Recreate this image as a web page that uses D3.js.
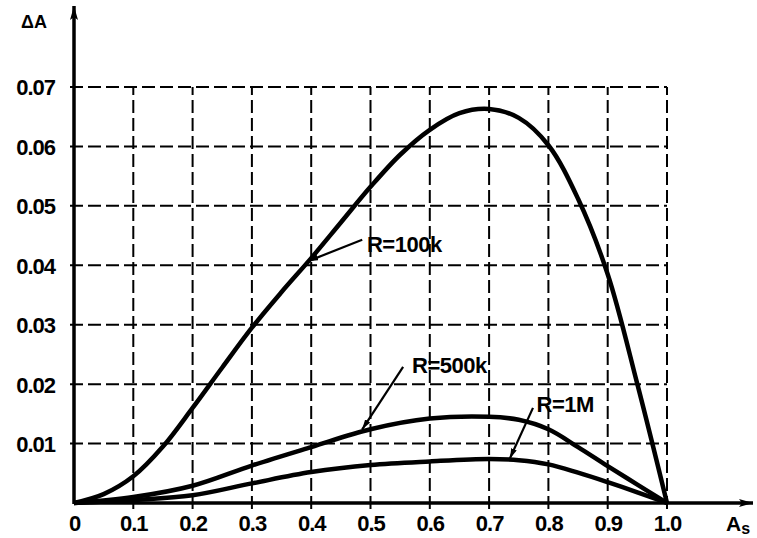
<!DOCTYPE html>
<html><head><meta charset="utf-8">
<script src="https://cdn.jsdelivr.net/npm/d3@7"></script>
<style>
body{margin:0;background:#fff;}
svg{display:block;}
text{font-family:"Liberation Sans",Arial,sans-serif;font-weight:bold;fill:#000;}
</style></head>
<body><svg id="c" width="757" height="538"></svg>
<script>
const xTicks = [0,0.1,0.2,0.3,0.4,0.5,0.6,0.7,0.8,0.9,1.0];
const xTickLabels = ["0","0.1","0.2","0.3","0.4","0.5","0.6","0.7","0.8","0.9","1.0"];
const yTicks = [0.01,0.02,0.03,0.04,0.05,0.06,0.07];
const yTickLabels = ["0.01","0.02","0.03","0.04","0.05","0.06","0.07"];

const xs100k = [0,0.05,0.1,0.15,0.2,0.25,0.3,0.35,0.4,0.45,0.5,0.55,0.6,0.65,0.7,0.75,0.8,0.85,0.9,0.95,1.0];
const r100k  = [0,0.0015,0.0045,0.0095,0.016,0.0228,0.0295,0.0355,0.0412,0.0472,0.0532,0.0586,0.0628,0.0656,0.0663,0.0648,0.0602,0.0512,0.0385,0.0200,0];
const xs500k = [0,0.1,0.2,0.3,0.4,0.5,0.6,0.7,0.75,0.8,0.85,0.9,0.95,1.0];
const r500k  = [0,0.0010,0.0029,0.0063,0.0094,0.0124,0.0142,0.0145,0.0140,0.0124,0.0094,0.0062,0.0031,0];
const xs1M   = [0,0.1,0.2,0.3,0.4,0.5,0.6,0.7,0.75,0.8,0.85,0.9,0.95,1.0];
const r1M    = [0,0.0005,0.0013,0.0033,0.0052,0.0064,0.0070,0.0074,0.0072,0.0065,0.0051,0.0035,0.0018,0];

const labels = [
  {text:"R=100k", tipX:0.395, tipY:0.0407, fromX:0.486, fromY:0.0443, tx:0.494, ty:0.0422},
  {text:"R=500k", tipX:0.486, tipY:0.0124, fromX:0.555, fromY:0.0229, tx:0.570, ty:0.0218},
  {text:"R=1M",   tipX:0.735, tipY:0.0075, fromX:0.774, fromY:0.0160, tx:0.780, ty:0.0153}
];

const svg = d3.select("#c");
const x = d3.scaleLinear().domain([0,1]).range([74,667]);
const y = d3.scaleLinear().domain([0,0.07]).range([503,87]);

const defs = svg.append("defs");
defs.append("marker").attr("id","ah").attr("viewBox","0 0 10 6").attr("refX",10).attr("refY",3)
  .attr("markerWidth",10).attr("markerHeight",6).attr("markerUnits","userSpaceOnUse").attr("orient","auto")
  .append("path").attr("d","M0,0L10,3L0,6Z").attr("fill","#000");
defs.append("marker").attr("id","axh").attr("viewBox","0 0 14 8").attr("refX",14).attr("refY",4)
  .attr("markerWidth",14).attr("markerHeight",8).attr("markerUnits","userSpaceOnUse").attr("orient","auto")
  .append("path").attr("d","M0,0L14,4L0,8L3,4Z").attr("fill","#000");

// grid
const g = svg.append("g");
g.selectAll("line.v").data(xTicks.slice(1)).enter().append("line")
  .attr("x1",d=>x(d)).attr("x2",d=>x(d)).attr("y1",y(0)+6).attr("y2",y(0.07))
  .attr("stroke","#000").attr("stroke-width",2).attr("stroke-dasharray","13,5");
g.selectAll("line.h").data(yTicks).enter().append("line")
  .attr("x1",x(0)-4).attr("x2",x(1)).attr("y1",d=>y(d)).attr("y2",d=>y(d))
  .attr("stroke","#000").attr("stroke-width",2).attr("stroke-dasharray","13,5");

// axes lines
svg.append("line").attr("x1",x(0)).attr("x2",753).attr("y1",y(0)).attr("y2",y(0))
  .attr("stroke","#000").attr("stroke-width",3.5).attr("marker-end","url(#axh)");
svg.append("line").attr("x1",x(0)).attr("x2",x(0)).attr("y1",y(0)+1).attr("y2",6)
  .attr("stroke","#000").attr("stroke-width",3.5).attr("marker-end","url(#axh)");

// tick labels via axes
const xa = d3.axisBottom(x).tickValues(xTicks).tickFormat((d,i)=>xTickLabels[i]).tickSize(0).tickPadding(0);
const xg = svg.append("g").attr("transform",`translate(0,${y(0)})`).call(xa);
xg.select(".domain").remove();
xg.selectAll("text").attr("dy",null).attr("y",28).attr("font-size",22).attr("letter-spacing",-1)
  .attr("font-family","Liberation Sans, Arial, sans-serif").attr("font-weight","bold").attr("fill","#000");

const ya = d3.axisLeft(y).tickValues(yTicks).tickFormat((d,i)=>yTickLabels[i]).tickSize(0).tickPadding(0);
const yg = svg.append("g").attr("transform",`translate(${x(0)-19},0)`).call(ya);
yg.select(".domain").remove();
yg.selectAll("text").attr("dy","0.36em").attr("x",0).attr("font-size",22).attr("letter-spacing",-1)
  .attr("font-family","Liberation Sans, Arial, sans-serif").attr("font-weight","bold").attr("fill","#000");

// curves
const line = d3.line().x(d=>x(d[0])).y(d=>y(d[1])).curve(d3.curveCatmullRom.alpha(0.5));
[[xs100k,r100k],[xs500k,r500k],[xs1M,r1M]].forEach(([xs,vs])=>{
  svg.append("path").datum(xs.map((v,i)=>[v,vs[i]])).attr("d",line)
    .attr("fill","none").attr("stroke","#000").attr("stroke-width",4.5).attr("stroke-linejoin","round");
});

// annotations
labels.forEach(l=>{
  svg.append("line").attr("x1",x(l.fromX)).attr("y1",y(l.fromY)).attr("x2",x(l.tipX)).attr("y2",y(l.tipY))
    .attr("stroke","#000").attr("stroke-width",2.2).attr("marker-end","url(#ah)");
  svg.append("text").attr("x",x(l.tx)).attr("y",y(l.ty)).attr("font-size",22).attr("letter-spacing",-0.5).text(l.text);
});

// axis titles
svg.append("text").attr("x",21).attr("y",28).attr("font-size",18).text("ΔA");
const at = svg.append("text").attr("x",726).attr("y",531).attr("font-size",21);
at.append("tspan").text("A");
at.append("tspan").attr("dy",3).attr("font-size",16).text("s");
</script></body></html>
